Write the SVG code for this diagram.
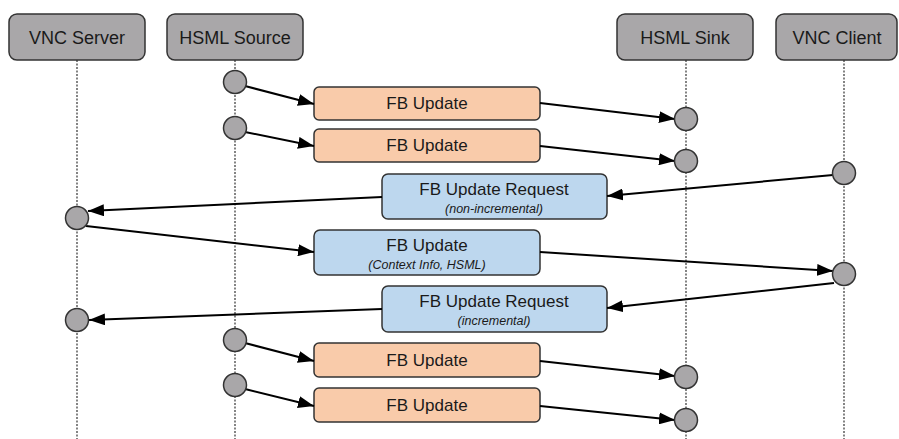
<svg xmlns="http://www.w3.org/2000/svg" width="899" height="439" viewBox="0 0 899 439">
<style>
.hdr{fill:#a9a7a9;stroke:#333;stroke-width:1.5}
.life{stroke:#333;stroke-width:1.2;stroke-dasharray:2 1.5;fill:none}
.dot{fill:#a9a7a9;stroke:#333;stroke-width:1.5}
.org{fill:#f9cbaa;stroke:#333;stroke-width:1.5}
.blu{fill:#bdd7ee;stroke:#333;stroke-width:1.5}
.ht{font-family:"Liberation Sans",Arial,sans-serif;font-size:18px;fill:#1a1a1a;text-anchor:middle}
.bt{font-family:"Liberation Sans",Arial,sans-serif;font-size:17px;fill:#1a1a1a;text-anchor:middle}
.st{font-family:"Liberation Sans",Arial,sans-serif;font-size:12.5px;font-style:italic;fill:#1a1a1a;text-anchor:middle}
.arr{stroke:#000;stroke-width:2;fill:none;marker-end:url(#ah)}
</style>
<defs>
<marker id="ah" markerUnits="userSpaceOnUse" markerWidth="16" markerHeight="12" refX="16" refY="6" orient="auto">
<path d="M0,0 L16,6 L0,12 z" fill="#000"/>
</marker>
</defs>
<g id="lifelines">
<line class="life" x1="77" y1="60" x2="77" y2="439"/>
<line class="life" x1="235" y1="60" x2="235" y2="439"/>
<line class="life" x1="686" y1="60" x2="686" y2="439"/>
<line class="life" x1="844" y1="60" x2="844" y2="439"/>
</g>
<g id="vnc-server"><rect class="hdr" x="9" y="14" width="136" height="46" rx="8"/><text class="ht" x="77" y="44">VNC Server</text></g>
<g id="hsml-source"><rect class="hdr" x="167" y="14" width="136" height="46" rx="8"/><text class="ht" x="235" y="44">HSML Source</text></g>
<g id="hsml-sink"><rect class="hdr" x="617" y="14" width="136" height="46" rx="8"/><text class="ht" x="685" y="44">HSML Sink</text></g>
<g id="vnc-client"><rect class="hdr" x="776" y="14" width="121" height="46" rx="8"/><text class="ht" x="837" y="44">VNC Client</text></g>
<g id="msg1"><rect class="org" x="314" y="87" width="226" height="33" rx="5"/><text class="bt" x="427" y="109">FB Update</text></g>
<g id="msg2"><rect class="org" x="314" y="129" width="226" height="33" rx="5"/><text class="bt" x="427" y="151">FB Update</text></g>
<g id="msg3"><rect class="blu" x="382" y="174" width="225" height="45" rx="6"/><text class="bt" x="494" y="195">FB Update Request</text><text class="st" x="494" y="213">(non-incremental)</text></g>
<g id="msg4"><rect class="blu" x="314" y="230" width="226" height="45" rx="6"/><text class="bt" x="427" y="251">FB Update</text><text class="st" x="427" y="269">(Context Info, HSML)</text></g>
<g id="msg5"><rect class="blu" x="382" y="286" width="225" height="46" rx="6"/><text class="bt" x="494" y="307">FB Update Request</text><text class="st" x="494" y="325">(incremental)</text></g>
<g id="msg6"><rect class="org" x="314" y="343" width="226" height="34" rx="5"/><text class="bt" x="427" y="366">FB Update</text></g>
<g id="msg7"><rect class="org" x="314" y="388" width="226" height="34" rx="5"/><text class="bt" x="427" y="411">FB Update</text></g>
<g id="connectors">
<line class="arr" x1="245" y1="86" x2="314" y2="104"/>
<line class="arr" x1="245" y1="132" x2="314" y2="146"/>
<line class="arr" x1="540" y1="103" x2="675" y2="119"/>
<line class="arr" x1="540" y1="146" x2="675" y2="161"/>
<line class="arr" x1="833" y1="175" x2="607" y2="196"/>
<line class="arr" x1="382" y1="197" x2="88" y2="211"/>
<line class="arr" x1="86" y1="226" x2="314" y2="252"/>
<line class="arr" x1="540" y1="252" x2="833" y2="271"/>
<line class="arr" x1="834" y1="283" x2="607" y2="308"/>
<line class="arr" x1="382" y1="309" x2="89" y2="320"/>
<line class="arr" x1="245" y1="343" x2="314" y2="361"/>
<line class="arr" x1="245" y1="389" x2="314" y2="406"/>
<line class="arr" x1="540" y1="361" x2="675" y2="376"/>
<line class="arr" x1="540" y1="406" x2="675" y2="420"/>
</g>
<g id="activations">
<circle class="dot" cx="235" cy="82" r="11.5"/>
<circle class="dot" cx="235" cy="128" r="11.5"/>
<circle class="dot" cx="686" cy="119" r="11.5"/>
<circle class="dot" cx="686" cy="161" r="11.5"/>
<circle class="dot" cx="844" cy="173" r="11.5"/>
<circle class="dot" cx="77" cy="218" r="11.5"/>
<circle class="dot" cx="844" cy="274" r="11.5"/>
<circle class="dot" cx="77" cy="320" r="11.5"/>
<circle class="dot" cx="235" cy="340" r="11.5"/>
<circle class="dot" cx="235" cy="385" r="11.5"/>
<circle class="dot" cx="686" cy="377" r="11.5"/>
<circle class="dot" cx="686" cy="420" r="11.5"/>
</g>
</svg>
